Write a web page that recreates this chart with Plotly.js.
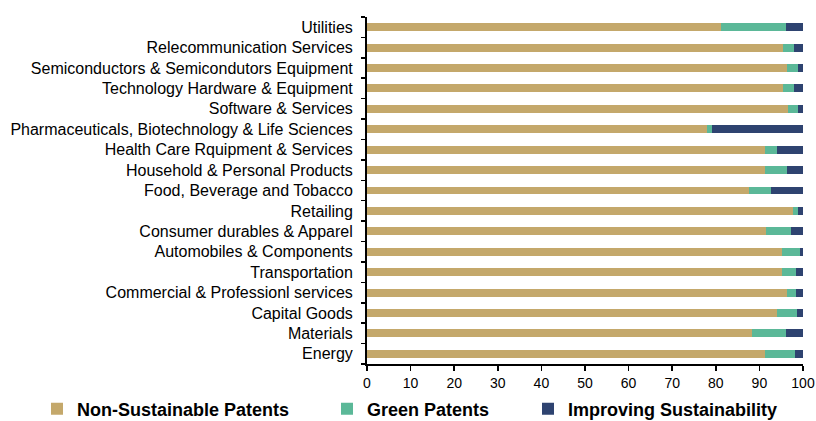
<!DOCTYPE html>
<html>
<head>
<meta charset="utf-8">
<script src="https://cdn.plot.ly/plotly-3.0.1.min.js"></script>
<style>html,body{margin:0;padding:0;background:#fff;}#chart{width:816px;height:421px;}</style>
</head>
<body>
<div id="chart"></div>
<script>
// Categories listed bottom to top
const categories = [
  "Energy",
  "Materials",
  "Capital Goods",
  "Commercial & Professionl services",
  "Transportation",
  "Automobiles & Components",
  "Consumer durables & Apparel",
  "Retailing",
  "Food, Beverage and Tobacco",
  "Household & Personal Products",
  "Health Care Rquipment & Services",
  "Pharmaceuticals, Biotechnology & Life Sciences",
  "Software & Services",
  "Technology Hardware & Equipment",
  "Semiconductors & Semicondutors Equipment",
  "Relecommunication Services",
  "Utilities"
];
const nonSustainable = [91.3, 88.2, 94.0, 96.3, 95.1, 95.1, 91.5, 97.7, 87.6, 91.3, 91.3, 77.9, 96.5, 95.5, 96.3, 95.4, 81.3];
const greenPatents   = [6.9, 7.8, 4.7, 2.2, 3.4, 4.1, 5.8, 1.2, 5.1, 5.0, 2.8, 1.3, 2.3, 2.5, 2.5, 2.5, 14.7];
const improving      = [1.8, 4.0, 1.3, 1.5, 1.5, 0.8, 2.7, 1.1, 7.3, 3.7, 5.9, 20.8, 1.2, 2.0, 1.2, 2.1, 4.0];
const xTicks = [0, 10, 20, 30, 40, 50, 60, 70, 80, 90, 100];

const colors = {ns: "#C4A86B", gp: "#5BB898", is: "#2E4370"};
const legendFont = {family: "Liberation Sans, Arial, sans-serif", size: 18, color: "#000", weight: "bold"};

function trace(name, vals, color, legend) {
  return {
    type: "bar", orientation: "h", name: name,
    x: vals, y: categories,
    marker: {color: color, line: {width: 0}},
    legend: legend, hoverinfo: "x+name"
  };
}

const data = [
  trace("<b>Non-Sustainable Patents</b>", nonSustainable, colors.ns, "legend"),
  trace("<b>Green Patents</b>", greenPatents, colors.gp, "legend2"),
  trace("<b>Improving Sustainability</b>", improving, colors.is, "legend3")
];

function lg(xpx) {
  return {
    orientation: "h", xref: "container", yref: "container",
    x: xpx / 816, y: 12 / 421, xanchor: "left", yanchor: "middle",
    font: legendFont, bgcolor: "rgba(0,0,0,0)", itemwidth: 30,
    borderwidth: 0, tracegroupgap: 0
  };
}

const layout = {
  width: 816, height: 421,
  margin: {l: 367, r: 13, t: 17, b: 57},
  paper_bgcolor: "#fff", plot_bgcolor: "#fff",
  barmode: "stack", bargap: 0.61,
  showlegend: true,
  legend: lg(37),
  legend2: lg(327),
  legend3: lg(528),
  xaxis: {
    range: [0, 100], tickvals: xTicks, ticktext: xTicks.map(String),
    showgrid: false, zeroline: false,
    showline: true, linecolor: "#000", linewidth: 2,
    ticks: "outside", ticklen: 5, tickwidth: 1.5, tickcolor: "#000",
    tickfont: {family: "Liberation Sans Narrow, Arial Narrow, Liberation Sans, sans-serif", size: 14, color: "#000"},
    fixedrange: true
  },
  yaxis: {
    type: "category", categoryorder: "array", categoryarray: categories,
    showgrid: false, zeroline: false,
    showline: true, linecolor: "#000", linewidth: 2,
    ticks: "outside", ticklen: 4, tickwidth: 1.5, tickcolor: "#000",
    tickson: "boundaries",
    tickfont: {family: "Liberation Sans, Arial, sans-serif", size: 16, color: "#000"},
    ticklabelstandoff: 9,
    fixedrange: true
  }
};

Plotly.newPlot("chart", data, layout, {displayModeBar: false, staticPlot: true});
</script>
</body>
</html>
